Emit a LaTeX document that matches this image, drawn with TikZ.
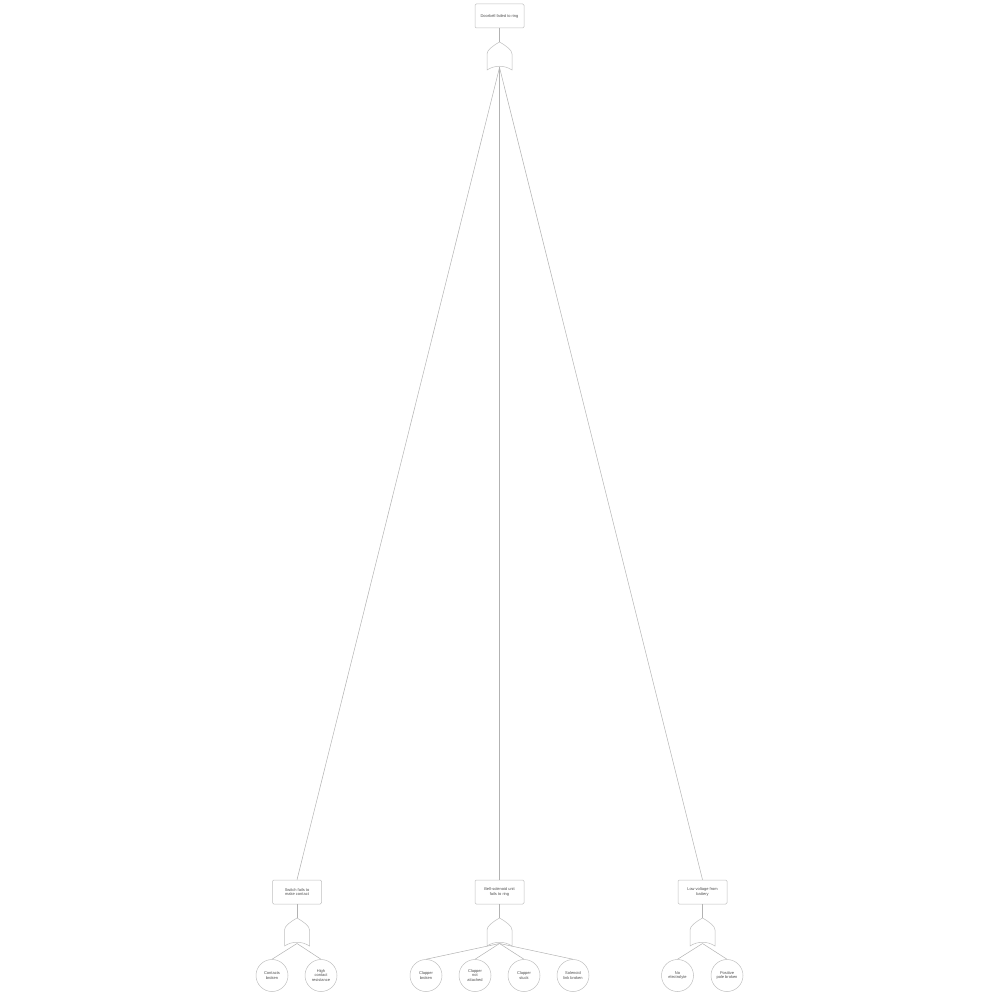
\documentclass[tikz,border=0pt]{standalone}
\usepackage{fontspec}
\setmainfont{Liberation Sans}
\begin{document}
\begin{tikzpicture}[x=1pt,y=-1pt,
  every node/.style={font=\fontsize{4}{4.8}\selectfont, text=black!70},
  evt/.style={draw=black!25, line width=0.5pt, rounded corners=1.2pt, minimum width=49pt, minimum height=24pt, align=center, inner sep=1pt},
  basic/.style={draw=black!25, line width=0.5pt, circle, minimum size=32pt, align=center, inner sep=0pt},
  conn/.style={draw=black!30, line width=0.5pt},
  orgate/.pic={
    \draw[draw=black!25, line width=0.5pt, fill=white] (0,0) .. controls (-7,4) and (-12.5,8) .. (-12.5,12) -- (-12.5,28) .. controls (-5,23) and (5,23) .. (12.5,28) -- (12.5,12) .. controls (12.5,8) and (7,4) .. (0,0) -- cycle;
    \coordinate (-in) at (0,0);
    \coordinate (-out) at (0,25.5);
  }]
\useasboundingbox (0,0) rectangle (1000,1000);

% top
\node[evt] (top) at (499.5,16) {Doorbell failed to ring};
\pic (g0) at (499.5,42) {orgate};

% second level events
\node[evt] (sw) at (297,892) {Switch fails to\\make contact};
\node[evt] (bell) at (499.5,892) {Bell-solenoid unit\\fails to ring};
\node[evt] (bat) at (702.5,892) {Low voltage from\\battery};

\pic (g1) at (297,918) {orgate};
\pic (g2) at (499.5,918) {orgate};
\pic (g3) at (702.5,918) {orgate};

% basic events
\node[basic] (c1) at (272,975.5) {Contacts\\broken};
\node[basic] (c2) at (321,975.5) {High\\contact\\resistance};
\node[basic] (c3) at (426,975.5) {Clapper\\broken};
\node[basic] (c4) at (475,975.5) {Clapper\\not\\attached};
\node[basic] (c5) at (524,975.5) {Clapper\\stuck};
\node[basic] (c6) at (573,975.5) {Solenoid\\link broken};
\node[basic] (c7) at (677.5,975.5) {No\\electrolyte};
\node[basic] (c8) at (727,975.5) {Positive\\pole broken};

% connectors
\draw[conn] (top.south) -- (g0-in);
\draw[conn] (g0-out) -- (sw.north);
\draw[conn] (g0-out) -- (bell.north);
\draw[conn] (g0-out) -- (bat.north);
\draw[conn] (sw.south) -- (g1-in);
\draw[conn] (bell.south) -- (g2-in);
\draw[conn] (bat.south) -- (g3-in);
\draw[conn] (g1-out) -- (c1.north);
\draw[conn] (g1-out) -- (c2.north);
\draw[conn] (g2-out) -- (c3.north);
\draw[conn] (g2-out) -- (c4.north);
\draw[conn] (g2-out) -- (c5.north);
\draw[conn] (g2-out) -- (c6.north);
\draw[conn] (g3-out) -- (c7.north);
\draw[conn] (g3-out) -- (c8.north);
\end{tikzpicture}
\end{document}
